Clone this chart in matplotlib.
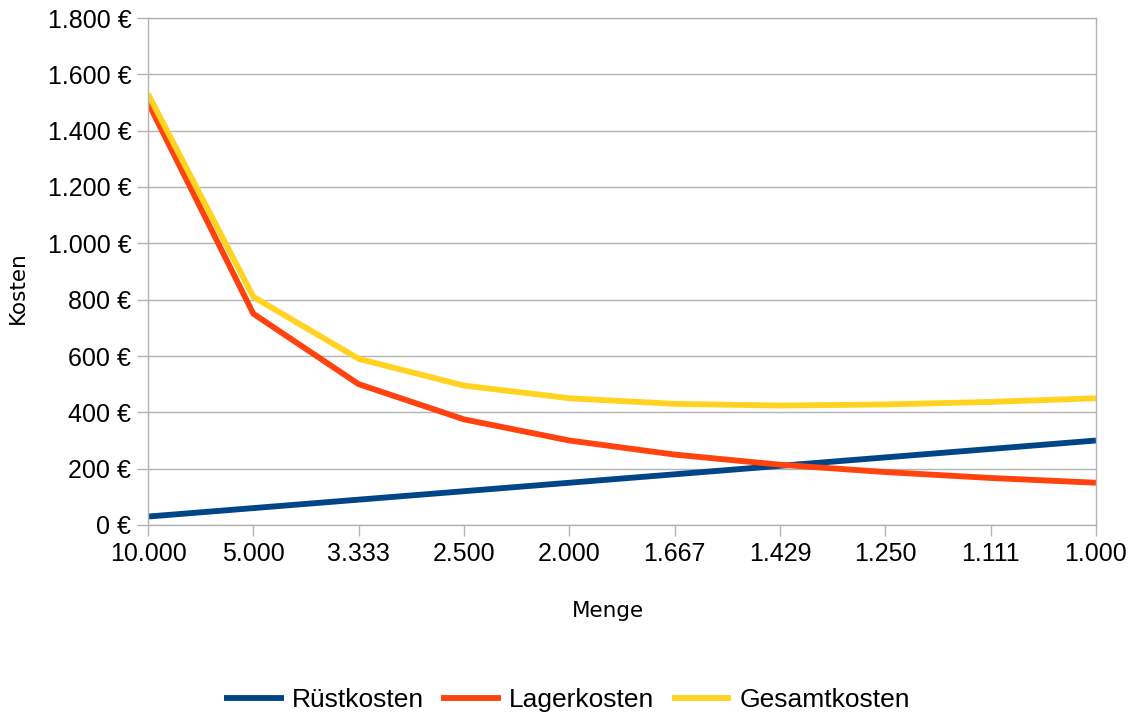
import matplotlib
matplotlib.use("Agg")
import matplotlib.pyplot as plt
from matplotlib.ticker import FuncFormatter

plt.rcParams['font.family'] = ['Liberation Sans', 'DejaVu Sans']

mengen = ["10.000", "5.000", "3.333", "2.500", "2.000", "1.667", "1.429", "1.250", "1.111", "1.000"]
ruestkosten = [30, 60, 90, 120, 150, 180, 210, 240, 270, 300]
lagerkosten = [1500, 750, 500, 375, 300, 250, 214, 188, 167, 150]
gesamtkosten = [1530, 810, 590, 495, 450, 430, 424, 428, 437, 450]

W, H = 1134, 716
fig = plt.figure(figsize=(W/100, H/100), dpi=100)
ax = fig.add_axes([148/W, 1-525/H, (1096-148)/W, (525-18)/H])

x = list(range(len(mengen)))
lw = 4.2
ax.plot(x, ruestkosten, color="#004586", lw=lw, label="Rüstkosten", solid_capstyle="butt")
ax.plot(x, lagerkosten, color="#ff420e", lw=lw, label="Lagerkosten", solid_capstyle="butt")
ax.plot(x, gesamtkosten, color="#ffd320", lw=lw, label="Gesamtkosten", solid_capstyle="butt")

ax.set_xlim(0, len(mengen)-1)
ax.set_ylim(0, 1800)
ax.set_xticks(x)
ax.set_xticklabels(mengen)
ax.set_yticks(range(0, 1801, 200))

def fmt(v, pos):
    return f"{int(v):,} €".replace(",", ".")
ax.yaxis.set_major_formatter(FuncFormatter(fmt))

ax.grid(axis='y', color="#b3b3b3", lw=1)
ax.set_axisbelow(True)
for s in ax.spines.values():
    s.set_color("#b3b3b3")
    s.set_linewidth(1)
ax.tick_params(axis='both', colors="#b3b3b3", labelcolor="black", labelsize=18, length=8, width=1)
ax.tick_params(axis='x', pad=4)
ax.tick_params(axis='y', pad=4)

fig.text(608/W, 1-611/H, "Menge", fontsize=15.5, family="DejaVu Sans", ha="center", va="center")
fig.text(18/W, 1-288/H, "Kosten", fontsize=15.5, family="DejaVu Sans", ha="center", va="center",
         rotation=90)

leg = fig.legend(loc="center", bbox_to_anchor=(0.5, 1-700/H), ncol=3, frameon=False,
                 fontsize=19, handlelength=2.27, columnspacing=0.65, handletextpad=0.3)

fig.savefig("out.png", dpi=100)
